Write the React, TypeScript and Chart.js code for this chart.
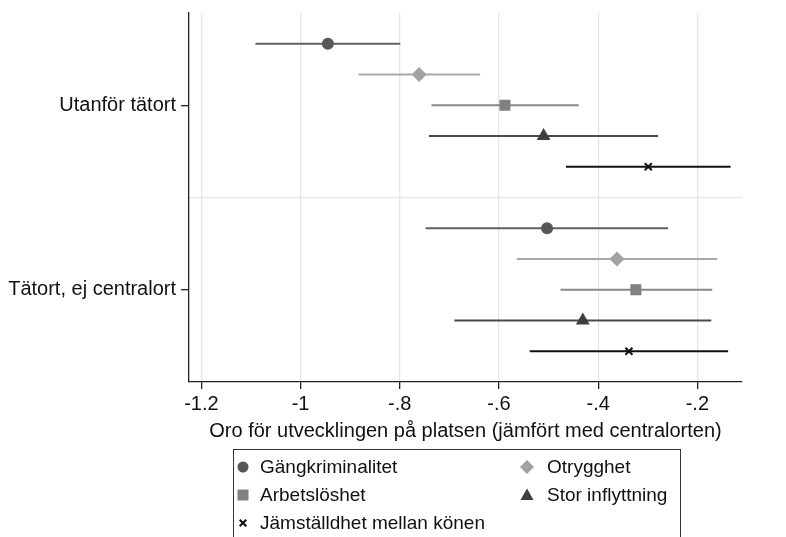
import React, { useEffect, useRef } from 'react';
import { Chart, registerables } from 'chart.js';

Chart.register(...registerables);

// ---------- data ----------
const categories = ['Utanför tätort', 'Tätort, ej centralort'];
const seriesNames = ['Gängkriminalitet', 'Otrygghet', 'Arbetslöshet', 'Stor inflyttning', 'Jämställdhet mellan könen'];

const gangCoef = [-0.945, -0.503];
const gangLo = [-1.091, -0.748];
const gangHi = [-0.799, -0.259];

const otryCoef = [-0.761, -0.362];
const otryLo = [-0.883, -0.564];
const otryHi = [-0.638, -0.160];

const arbCoef = [-0.588, -0.324];
const arbLo = [-0.736, -0.476];
const arbHi = [-0.439, -0.170];

const storCoef = [-0.510, -0.431];
const storLo = [-0.741, -0.690];
const storHi = [-0.279, -0.172];

const jamCoef = [-0.299, -0.338];
const jamLo = [-0.465, -0.538];
const jamHi = [-0.133, -0.138];

const xTickValues = [-1.2, -1.0, -0.8, -0.6, -0.4, -0.2];
const xTitle = 'Oro för utvecklingen på platsen (jämfört med centralorten)';

// ---------- styles ----------
const FONT = '"Liberation Sans", Arial, Helvetica, sans-serif';
const AXIS_FONT_SIZE = 20;
const LEGEND_FONT_SIZE = 19;

const series = [
  { name: seriesNames[0], coef: gangCoef, lo: gangLo, hi: gangHi, color: '#575757', line: '#606060', style: 'circle', radius: 6 },
  { name: seriesNames[1], coef: otryCoef, lo: otryLo, hi: otryHi, color: '#a2a2a2', line: '#a8a8a8', style: 'rectRot', radius: 7.5 },
  { name: seriesNames[2], coef: arbCoef, lo: arbLo, hi: arbHi, color: '#818181', line: '#888888', style: 'rect', radius: 7.8 },
  { name: seriesNames[3], coef: storCoef, lo: storLo, hi: storHi, color: '#3e3e3e', line: '#4a4a4a', style: 'triangle', radius: 8 },
  { name: seriesNames[4], coef: jamCoef, lo: jamLo, hi: jamHi, color: '#111111', line: '#111111', style: 'crossRot', radius: 5 },
];

const nSeries = series.length;
const groupSpan = nSeries + 1;
const yPos = (g: number, s: number) => g * groupSpan + s + 1;
const groupCenter = (g: number) => g * groupSpan + (nSeries + 1) / 2;
const separators = categories.slice(1).map((_, i) => (i + 1) * groupSpan);

function fmt(v: number) {
  const s = String(Math.round(v * 10) / 10);
  return s.replace(/^(-?)0\./, '$1.');
}

function LegendMarker({ style, color }: { style: string; color: string }) {
  const c = 8;
  let shape: any = null;
  if (style === 'circle') shape = <circle cx={c} cy={c} r={5.5} fill={color} />;
  else if (style === 'rectRot') shape = <polygon points={`${c},${c - 7} ${c + 7},${c} ${c},${c + 7} ${c - 7},${c}`} fill={color} />;
  else if (style === 'rect') shape = <rect x={c - 5.5} y={c - 5.5} width={11} height={11} fill={color} />;
  else if (style === 'triangle') shape = <polygon points={`${c},${c - 6.5} ${c + 6.5},${c + 5} ${c - 6.5},${c + 5}`} fill={color} />;
  else shape = (
    <g stroke={color} strokeWidth={2}>
      <line x1={c - 3.3} y1={c - 3.3} x2={c + 3.3} y2={c + 3.3} />
      <line x1={c - 3.3} y1={c + 3.3} x2={c + 3.3} y2={c - 3.3} />
    </g>
  );
  return <svg width={16} height={16} style={{ display: 'block' }}>{shape}</svg>;
}

export default function App() {
  const canvasRef = useRef<HTMLCanvasElement | null>(null);

  useEffect(() => {
    const canvas = canvasRef.current;
    if (!canvas) return;

    const datasets: any[] = [];
    // points
    series.forEach((s, si) => {
      datasets.push({
        type: 'scatter',
        label: s.name,
        data: categories.map((_, g) => ({ x: s.coef[g], y: yPos(g, si) })),
        pointStyle: s.style,
        pointRadius: s.radius,
        pointHoverRadius: s.radius,
        backgroundColor: s.color,
        borderColor: s.color,
        borderWidth: s.style === 'crossRot' ? 2 : 0,
        pointBorderWidth: s.style === 'crossRot' ? 2 : 0,
        showLine: false,
        order: 0,
      });
    });
    // confidence intervals
    series.forEach((s, si) => {
      categories.forEach((_, g) => {
        datasets.push({
          type: 'line',
          label: `${s.name} CI ${g}`,
          data: [
            { x: s.lo[g], y: yPos(g, si) },
            { x: s.hi[g], y: yPos(g, si) },
          ],
          borderColor: s.line,
          borderWidth: 2,
          pointRadius: 0,
          pointHoverRadius: 0,
          fill: false,
          order: 1,
        });
      });
    });

    const chart = new Chart(canvas, {
      type: 'scatter',
      data: { datasets },
      options: {
        animation: false,
        responsive: false,
        maintainAspectRatio: false,
        events: [],
        layout: { padding: { left: 0, top: 13, right: 44, bottom: 94 } },
        plugins: {
          legend: { display: false },
          tooltip: { enabled: false },
          title: { display: false },
        },
        scales: {
          x: {
            type: 'linear',
            min: -1.225,
            max: -0.11,
            afterBuildTicks: (scale: any) => {
              scale.ticks = xTickValues.map((v) => ({ value: v }));
            },
            afterFit: (scale: any) => {
              scale.height = 61;
            },
            grid: {
              color: '#e6e6e6',
              lineWidth: 1.3,
              tickColor: '#222',
              tickLength: 7,
              drawTicks: true,
            },
            border: { display: true, color: '#222', width: 1.3 },
            ticks: {
              color: '#111',
              font: { family: FONT, size: AXIS_FONT_SIZE },
              padding: 3,
              maxRotation: 0,
              autoSkip: false,
              callback: (v: any) => fmt(Number(v)),
            },
            title: {
              display: true,
              text: xTitle,
              color: '#111',
              font: { family: FONT, size: AXIS_FONT_SIZE },
              padding: { top: 0, bottom: 0, left: 0, right: 0 },
            },
          },
          y: {
            type: 'linear',
            min: 0,
            max: groupSpan * categories.length,
            reverse: true,
            afterBuildTicks: (scale: any) => {
              const t: any[] = [];
              categories.forEach((_, g) => t.push({ value: groupCenter(g) }));
              separators.forEach((v) => t.push({ value: v }));
              t.sort((a, b) => a.value - b.value);
              scale.ticks = t;
            },
            afterFit: (scale: any) => {
              scale.width = 189;
              scale.paddingTop = 0;
              scale.paddingBottom = 0;
            },
            grid: {
              color: (ctx: any) => (separators.includes(ctx.tick?.value) ? '#e6e6e6' : 'rgba(0,0,0,0)'),
              tickColor: (ctx: any) => (separators.includes(ctx.tick?.value) ? 'rgba(0,0,0,0)' : '#222'),
              lineWidth: 1.3,
              tickLength: 8,
              drawTicks: true,
            },
            border: { display: true, color: '#222', width: 1.3 },
            ticks: {
              color: '#111',
              font: { family: FONT, size: AXIS_FONT_SIZE },
              padding: 5,
              autoSkip: false,
              callback: (v: any) => {
                const g = categories.findIndex((_, i) => groupCenter(i) === Number(v));
                return g >= 0 ? categories[g] : '';
              },
            },
          },
        },
      } as any,
    });

    return () => chart.destroy();
  }, []);

  const rowCenters = [17, 45, 73];
  const legendItems = [
    { s: series[0], col: 0, row: 0 },
    { s: series[1], col: 1, row: 0 },
    { s: series[2], col: 0, row: 1 },
    { s: series[3], col: 1, row: 1 },
    { s: series[4], col: 0, row: 2 },
  ];
  const colMarker = [9, 293];
  const colText = [26, 313];

  return (
    <div style={{ position: 'absolute', left: 0, top: 0, width: 786, height: 537, overflow: 'hidden', background: '#fff' }}>
      <canvas ref={canvasRef} width={786} height={537} style={{ position: 'absolute', left: 0, top: 0, width: 786, height: 537 }} />
      <div
        style={{
          position: 'absolute',
          left: 233,
          top: 449,
          width: 448,
          height: 120,
          border: '1px solid #333',
          boxSizing: 'border-box',
          fontFamily: FONT,
          fontSize: LEGEND_FONT_SIZE,
          color: '#111',
        }}
      >
        {legendItems.map(({ s, col, row }) => (
          <React.Fragment key={s.name}>
            <div style={{ position: 'absolute', left: colMarker[col] - 8, top: rowCenters[row] - 8 }}>
              <LegendMarker style={s.style} color={s.color} />
            </div>
            <div
              style={{
                position: 'absolute',
                left: colText[col],
                top: rowCenters[row] - 12,
                height: 24,
                lineHeight: '24px',
                whiteSpace: 'nowrap',
              }}
            >
              {s.name}
            </div>
          </React.Fragment>
        ))}
      </div>
    </div>
  );
}
